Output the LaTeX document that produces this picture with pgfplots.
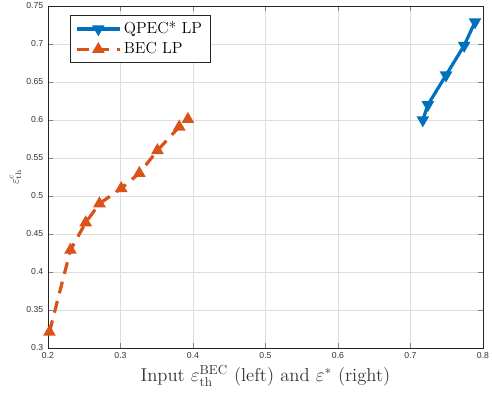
\documentclass[border=0pt]{standalone}
\usepackage{pgfplots}
\pgfplotsset{compat=1.18}
\usepackage{fontspec}
\newfontfamily\tickfont{Liberation Sans}
\definecolor{mblue}{RGB}{0,114,189}
\definecolor{morange}{RGB}{217,83,25}

\begin{document}
\begin{tikzpicture}
\begin{axis}[
  scale only axis,
  width=326.25pt, height=256.5pt,
  xmin=0.2, xmax=0.8, ymin=0.3, ymax=0.75,
  xtick={0.2,0.3,...,0.8}, ytick={0.3,0.35,...,0.75},
  xticklabels={0.2,0.3,0.4,0.5,0.6,0.7,0.8},
  yticklabels={0.3,0.35,0.4,0.45,0.5,0.55,0.6,0.65,0.7,0.75},
  tick label style={font=\tickfont\fontsize{6.5}{8}\selectfont, text=black!80},
  tick align=inside, tick pos=both,
  major tick length=4pt,
  axis line style={black!85, line width=0.6pt},
  grid=major, grid style={black!13, line width=0.5pt},
  xlabel={Input $\varepsilon_{\mathrm{th}}^{\mathrm{BEC}}$ (left) and $\varepsilon^{*}$ (right)},
  xlabel style={font=\fontsize{14}{16}\selectfont, text=black!80, yshift=2pt},
  ylabel={$\varepsilon_{\mathrm{th}}^{c}$},
  ylabel style={font=\fontsize{9}{10}\selectfont, text=black!80, yshift=-3pt},
  legend style={font=\fontsize{12}{14}\selectfont, at={(0.05,0.974)}, anchor=north west,
    draw=black!85, line width=0.6pt, inner xsep=4pt, inner ysep=3pt, row sep=1pt},
  legend image code/.code={\draw[mark repeat=2,mark phase=2]
    plot coordinates {(0cm,0cm) (0.56cm,0cm) (1.12cm,0cm)};},
  legend cell align=left,
  clip=false]
\addplot[color=mblue, line width=2.4pt, mark=triangle*, mark size=3.1pt,
  mark options={rotate=180, fill=mblue, solid}] coordinates
{(0.717,0.600) (0.724,0.620) (0.749,0.659) (0.774,0.698) (0.789,0.729)};
\addlegendentry{QPEC* LP}
\addplot[color=morange, line width=2.4pt, dash pattern=on 9pt off 6pt, mark=triangle*, mark size=3.1pt,
  mark options={fill=morange, solid}] coordinates
{(0.202,0.321) (0.231,0.429) (0.252,0.465) (0.271,0.490) (0.301,0.510) (0.326,0.530) (0.351,0.560) (0.381,0.591) (0.393,0.601)};
\addlegendentry{BEC LP}
\end{axis}
\pgfresetboundingbox
\path (current axis.south west) ++(-36pt,-38.25pt) coordinate (bl);
\path (current axis.north east) ++(6.75pt,4.5pt) coordinate (tr);
\path (bl) rectangle (tr);
\end{tikzpicture}
\end{document}
